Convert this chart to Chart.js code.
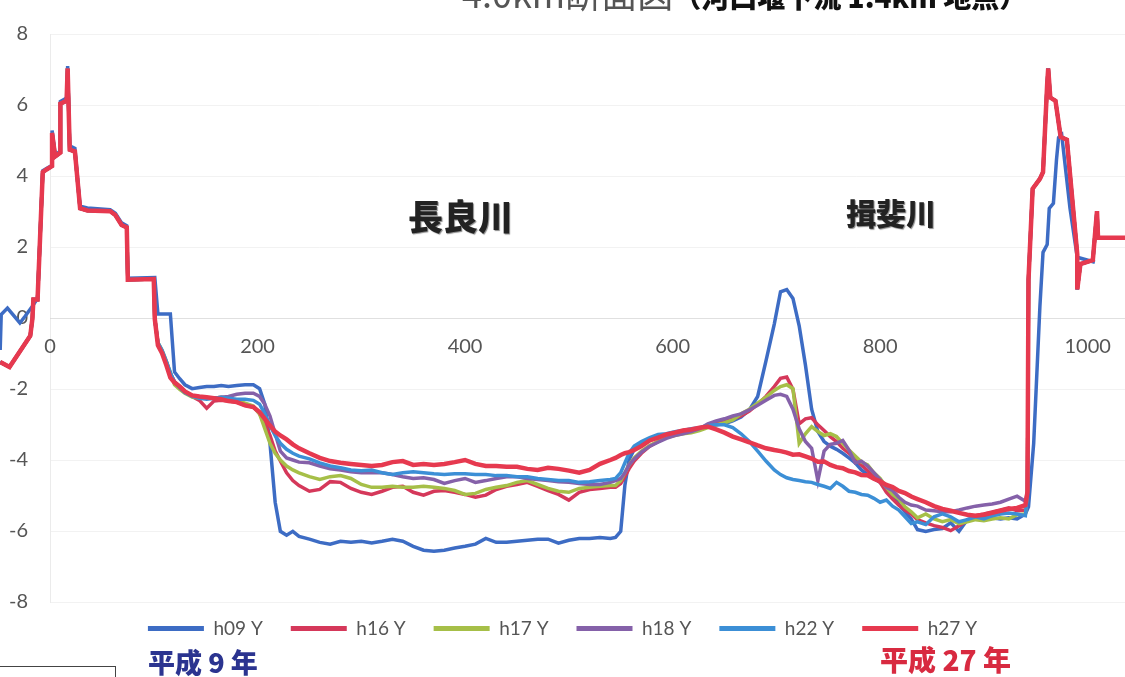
<!DOCTYPE html>
<html lang="ja">
<head>
  <meta charset="UTF-8">
  <title>4.0km断面図（河口堰下流 1.4km 地点）</title>
  <script src="https://cdn.jsdelivr.net/npm/chart.js"></script>
  <style>
    html, body { margin: 0; padding: 0; background: #fff; overflow: hidden; }
    #wrap { position: relative; width: 1125px; height: 677px; }
    #sectionChart { display: block; }
    .note { position: absolute; white-space: nowrap; line-height: 1; font-family: "Noto Sans CJK JP", sans-serif; }
    #title { left: 462px; top: -26px; font-size: 36px; color: #555; }
    #title b { font-size: 28px; color: #111; font-weight: 900; }
    .river { color: #222; font-weight: 900; text-shadow: 1px 1px 1px #888; }
    #nagara { left: 408px; top: 197px; font-size: 35px; }
    #ibi { left: 846px; top: 197px; font-size: 30px; }
    #yearOld { left: 148px; top: 648px; font-size: 27px; font-weight: 900; color: #2b3490; }
    #yearNew { left: 880px; top: 645px; font-size: 28px; font-weight: 900; color: #d82a40; }
    #box { position: absolute; left: -2px; top: 666px; width: 116px; height: 20px; border: 1px solid #444; }
  </style>
</head>
<body>
  <div id="wrap">
    <canvas id="sectionChart" width="1125" height="677"></canvas>
    <div class="note" id="title">4.0km断面図<b>（河口堰下流 1.4km 地点）</b></div>
    <div class="note river" id="nagara">長良川</div>
    <div class="note river" id="ibi">揖斐川</div>
    <div class="note" id="yearOld">平成 9 年</div>
    <div class="note" id="yearNew">平成 27 年</div>
    <div id="box"></div>
  </div>

  <script>
    // survey stations across the channel (m)
    const stationX = [
      104,108,112,116,120,125,130,137,144,151,158,165,172,180,188,196,202,207,212,217,222,228,234,240,
      250,260,270,280,290,300,310,320,330,340,350,360,370,380,390,400,410,420,430,440,450,460,470,480,490,500,510,520,530,540,
      545,550,554,558,563,570,578,586,594,
      602,610,618,626,634,642,650,658,666,674,682,690,698,
      704,710,716,722,728,734,740,746,752,758,764,770,776,782,788,794,800,806,812,818,824,830,
      836,844,852,860,868,876,884,892,900,908,916,924,932,940
    ];

    // levee profiles shared by h16 - h27
    const bankLeftX = [-48,-39,-19,-17,-16,-12,-7,-3,2,2,5,10,10,16,17,19,24,29,36,58,63,69,74,75,100,101];
    const bankLeftY = [-1.24,-1.38,-0.50,-0.03,0.52,0.52,4.11,4.19,4.28,5.21,4.55,4.66,6.04,6.12,7.03,4.74,4.69,3.09,3.03,3.01,2.90,2.62,2.55,1.08,1.10,-0.03];
    const bankRightX = [942,943,947,954,957,961,962,964,969,974,980,990,990,993,1005,1009,1010,1036];
    const bankRightY = [-4.90,1.08,3.64,3.92,4.11,6.59,7.03,6.21,6.12,5.10,5.02,1.79,0.80,1.52,1.63,3.01,2.26,2.26];

    // h09 has its own levee profile
    const h09LeftX = [-48,-47,-41,-29,-24,-17,-12,-7,-3,2,2,5,10,10,16,17,19,24,29,36,58,63,69,74,75,101];
    const h09LeftY = [-0.90,0.10,0.28,-0.14,0.05,0.33,0.55,4.15,4.22,4.30,5.28,4.60,4.70,6.10,6.20,7.10,4.85,4.78,3.15,3.10,3.05,2.95,2.68,2.60,1.12,1.14];
    const h09RightX = [943,948,954,957,961,963,967,970,972,975,983,990,1007];
    const h09RightY = [-5.32,-3.53,0.33,1.85,2.07,3.09,3.23,4.47,5.08,5.16,3.09,1.71,1.57];

    // bed levels at stationX (T.P. m)
    const h09Y = [
      0.11,0.11,0.11,0.11,-1.52,-1.71,-1.88,-1.99,-1.96,-1.93,-1.93,-1.90,-1.93,-1.90,-1.88,-1.88,-1.99,-2.43,-3.53,-5.19,-6.01,-6.12,-6.01,-6.15,
      -6.23,-6.32,-6.37,-6.29,-6.32,-6.29,-6.34,-6.29,-6.23,-6.29,-6.43,-6.54,-6.57,-6.54,-6.48,-6.43,-6.37,-6.21,-6.32,-6.32,-6.29,-6.26,-6.23,-6.23,-6.34,-6.26,-6.21,-6.21,-6.18,-6.21,
      -6.18,-6.01,-4.72,-4.00,-3.70,-3.53,-3.39,-3.34,-3.31,
      -3.26,-3.20,-3.17,-3.12,-3.06,-3.01,-2.98,-2.90,-2.79,-2.59,-2.21,-1.21,-0.17,
      0.74,0.80,0.55,-0.22,-1.32,-2.57,-3.20,-3.48,-3.61,-3.70,-3.81,-3.94,-4.08,-4.28,-4.41,-4.52,-4.63,-4.83,-4.99,-5.24,-5.46,-5.66,
      -5.96,-6.01,-5.96,-5.93,-5.77,-6.01,-5.68,-5.63,-5.60,-5.63,-5.66,-5.63,-5.66,-5.52
    ];
    const h16Y = [
      -0.72,-0.94,-1.24,-1.57,-1.79,-1.93,-2.07,-2.21,-2.32,-2.54,-2.34,-2.32,-2.34,-2.37,-2.46,-2.51,-2.70,-2.98,-3.31,-3.75,-4.03,-4.36,-4.58,-4.72,
      -4.88,-4.83,-4.61,-4.63,-4.80,-4.91,-4.97,-4.88,-4.77,-4.74,-4.91,-4.99,-4.88,-4.86,-4.91,-4.97,-5.05,-4.99,-4.83,-4.74,-4.69,-4.63,-4.74,-4.86,-4.97,-5.13,-4.91,-4.83,-4.80,-4.77,
      -4.77,-4.66,-4.47,-4.25,-4.03,-3.81,-3.61,-3.48,-3.34,
      -3.28,-3.23,-3.20,-3.14,-3.06,-2.98,-2.92,-2.84,-2.76,-2.62,-2.43,-2.21,-1.93,
      -1.70,-1.66,-2.01,-2.98,-2.84,-2.81,-3.01,-3.17,-3.34,-3.48,-3.67,-3.81,-3.97,-4.14,-4.30,-4.47,-4.63,-4.91,-5.10,-5.27,-5.41,-5.52,
      -5.68,-5.77,-5.85,-5.90,-5.99,-5.85,-5.71,-5.57,-5.52,-5.46,-5.41,-5.35,-5.43,-5.41
    ];
    const h17Y = [
      -0.69,-0.91,-1.21,-1.54,-1.88,-2.01,-2.12,-2.23,-2.26,-2.26,-2.26,-2.23,-2.26,-2.32,-2.40,-2.48,-2.70,-3.12,-3.53,-3.81,-4.00,-4.17,-4.28,-4.36,
      -4.47,-4.55,-4.47,-4.44,-4.52,-4.69,-4.77,-4.77,-4.74,-4.77,-4.77,-4.74,-4.77,-4.80,-4.86,-4.97,-4.94,-4.83,-4.77,-4.72,-4.63,-4.58,-4.69,-4.80,-4.88,-4.91,-4.80,-4.77,-4.74,-4.72,
      -4.72,-4.58,-4.36,-4.14,-3.94,-3.75,-3.59,-3.48,-3.37,
      -3.31,-3.26,-3.23,-3.17,-3.09,-3.01,-2.95,-2.87,-2.70,-2.57,-2.40,-2.23,-2.04,
      -1.93,-1.88,-1.99,-3.53,-3.26,-3.06,-3.20,-3.31,-3.26,-3.34,-3.53,-3.72,-3.89,-4.06,-4.14,-4.36,-4.52,-4.77,-4.97,-5.10,-5.32,-5.46,
      -5.63,-5.52,-5.66,-5.74,-5.68,-5.79,-5.74,-5.68,-5.71,-5.66,-5.63,-5.66,-5.54,-5.52
    ];
    const h18Y = [
      -0.72,-0.94,-1.24,-1.57,-1.79,-1.96,-2.10,-2.18,-2.23,-2.26,-2.26,-2.23,-2.21,-2.15,-2.12,-2.12,-2.21,-2.43,-2.76,-3.26,-3.75,-3.94,-4.00,-4.06,
      -4.08,-4.17,-4.25,-4.28,-4.33,-4.36,-4.36,-4.36,-4.41,-4.47,-4.52,-4.50,-4.55,-4.66,-4.58,-4.52,-4.63,-4.58,-4.52,-4.47,-4.47,-4.52,-4.55,-4.58,-4.61,-4.63,-4.66,-4.69,-4.69,-4.63,
      -4.58,-4.52,-4.36,-4.14,-3.97,-3.78,-3.61,-3.50,-3.39,
      -3.31,-3.26,-3.20,-3.12,-2.98,-2.90,-2.84,-2.76,-2.70,-2.59,-2.46,-2.32,-2.18,
      -2.15,-2.21,-2.57,-3.12,-3.48,-3.67,-4.58,-3.75,-3.56,-3.53,-3.45,-3.72,-4.08,-4.03,-4.17,-4.36,-4.55,-4.77,-4.86,-5.05,-5.19,-5.27,
      -5.30,-5.41,-5.43,-5.46,-5.46,-5.41,-5.35,-5.30,-5.27,-5.24,-5.19,-5.10,-5.02,-5.16
    ];
    const h22Y = [
      -0.69,-0.91,-1.21,-1.54,-1.82,-1.96,-2.10,-2.21,-2.26,-2.29,-2.26,-2.23,-2.26,-2.29,-2.29,-2.32,-2.43,-2.70,-3.03,-3.31,-3.53,-3.70,-3.81,-3.89,
      -3.97,-4.08,-4.17,-4.22,-4.28,-4.30,-4.28,-4.36,-4.41,-4.36,-4.33,-4.36,-4.39,-4.41,-4.39,-4.39,-4.41,-4.41,-4.44,-4.44,-4.47,-4.47,-4.52,-4.55,-4.58,-4.58,-4.63,-4.61,-4.58,-4.55,
      -4.52,-4.36,-4.08,-3.81,-3.61,-3.48,-3.37,-3.28,-3.26,
      -3.20,-3.17,-3.12,-3.09,-3.03,-3.01,-3.01,-3.09,-3.26,-3.48,-3.75,-4.03,-4.28,
      -4.41,-4.50,-4.55,-4.58,-4.61,-4.63,-4.69,-4.74,-4.80,-4.63,-4.74,-4.88,-4.91,-4.97,-4.99,-5.08,-5.19,-5.13,-5.30,-5.41,-5.60,-5.79,
      -5.74,-5.82,-5.60,-5.52,-5.60,-5.74,-5.68,-5.60,-5.66,-5.57,-5.52,-5.49,-5.52,-5.57
    ];
    const h27Y = [
      -0.77,-0.99,-1.32,-1.68,-1.82,-1.93,-2.07,-2.18,-2.21,-2.23,-2.26,-2.29,-2.34,-2.37,-2.46,-2.51,-2.65,-2.84,-3.03,-3.20,-3.31,-3.42,-3.56,-3.67,
      -3.81,-3.94,-4.03,-4.08,-4.11,-4.14,-4.17,-4.14,-4.06,-4.03,-4.14,-4.11,-4.14,-4.11,-4.06,-4.00,-4.11,-4.17,-4.17,-4.19,-4.19,-4.25,-4.28,-4.22,-4.25,-4.30,-4.36,-4.28,-4.11,-4.00,
      -3.94,-3.86,-3.81,-3.78,-3.72,-3.61,-3.45,-3.37,-3.28,
      -3.23,-3.17,-3.14,-3.09,-3.06,-3.14,-3.23,-3.34,-3.42,-3.50,-3.59,-3.67,-3.72,
      -3.75,-3.79,-3.85,-3.84,-3.90,-3.96,-4.05,-4.04,-4.14,-4.20,-4.23,-4.31,-4.35,-4.42,-4.43,-4.53,-4.60,-4.70,-4.76,-4.87,-4.93,-5.03,
      -5.10,-5.19,-5.30,-5.38,-5.43,-5.49,-5.54,-5.57,-5.54,-5.49,-5.43,-5.38,-5.35,-5.27
    ];

    const seriesNames = ['h09 Y', 'h16 Y', 'h17 Y', 'h18 Y', 'h22 Y', 'h27 Y'];
    const seriesColors = ['#3d6cc4', '#d5385a', '#a6bf48', '#8561a9', '#3c8fd6', '#e6394f'];
    const xTicks = [0, 200, 400, 600, 800, 1000];
    const yTicks = [-8, -6, -4, -2, 0, 2, 4, 6, 8];

    const toPoints = (xs, ys) => xs.map((x, i) => ({ x: x, y: ys[i] }));
    const fullX = [...bankLeftX, ...stationX, ...bankRightX];
    const profiles = [
      toPoints([...h09LeftX, ...stationX, ...h09RightX], [...h09LeftY, ...h09Y, ...h09RightY]),
      toPoints(fullX, [...bankLeftY, ...h16Y, ...bankRightY]),
      toPoints(fullX, [...bankLeftY, ...h17Y, ...bankRightY]),
      toPoints(fullX, [...bankLeftY, ...h18Y, ...bankRightY]),
      toPoints(fullX, [...bankLeftY, ...h22Y, ...bankRightY]),
      toPoints(fullX, [...bankLeftY, ...h27Y, ...bankRightY])
    ];

    // Excel draws later series on top; legend stays in series order
    const datasets = profiles.map((pts, i) => ({
      label: seriesNames[i],
      data: pts,
      borderColor: seriesColors[i],
      backgroundColor: seriesColors[i],
      borderWidth: i === 5 ? 4.5 : 3.5,
      pointRadius: 0,
      tension: 0,
      clip: false,
      order: 6 - i
    }));

    // nudge the legend row up to where Excel put it
    const legendUp = {
      id: 'legendUp',
      afterLayout(chart) {
        chart.legend.top -= 11;
        chart.legend.bottom -= 11;
      }
    };

    Chart.defaults.font.family = 'Lato, "Noto Sans", sans-serif';

    new Chart(document.getElementById('sectionChart').getContext('2d'), {
      type: 'line',
      data: { datasets: datasets },
      plugins: [legendUp],
      options: {
        responsive: false,
        animation: false,
        devicePixelRatio: 1,
        events: [],
        layout: { padding: { top: 22, bottom: 18, left: 0, right: 0 } },
        scales: {
          x: {
            type: 'linear',
            bounds: 'data',
            position: { y: 0 },
            // range set here (not min/max) so the levee left of 0 is still drawn
            afterDataLimits: s => { s.min = 0; s.max = 1036; },
            afterBuildTicks: s => { s.ticks = xTicks.map(v => ({ value: v })); },
            afterFit: s => { s.paddingLeft = 0; s.paddingRight = 0; },
            grid: { display: false, drawTicks: false },
            border: { display: true, color: 'rgba(0,0,0,0.08)' },
            ticks: { padding: 17, color: '#555', font: { size: 20 }, callback: v => String(v) }
          },
          y: {
            min: -8,
            max: 8,
            position: 'left',
            afterFit: s => { s.width = 50; },
            afterBuildTicks: s => { s.ticks = yTicks.map(v => ({ value: v })); },
            grid: { color: 'rgba(0,0,0,0.05)', drawTicks: false },
            border: { color: 'rgba(0,0,0,0.08)' },
            ticks: { padding: 22, color: '#555', font: { size: 20 }, callback: v => String(v) }
          }
        },
        plugins: {
          tooltip: { enabled: false },
          legend: {
            position: 'bottom',
            labels: {
              boxWidth: 56,
              boxHeight: 5,
              padding: 28,
              color: '#555',
              font: { size: 19 },
              sort: (a, b) => a.datasetIndex - b.datasetIndex,
              generateLabels: chart => Chart.defaults.plugins.legend.labels.generateLabels(chart)
                .map(item => ({ ...item, lineWidth: 0 }))
            }
          }
        }
      }
    });
  </script>
</body>
</html>
